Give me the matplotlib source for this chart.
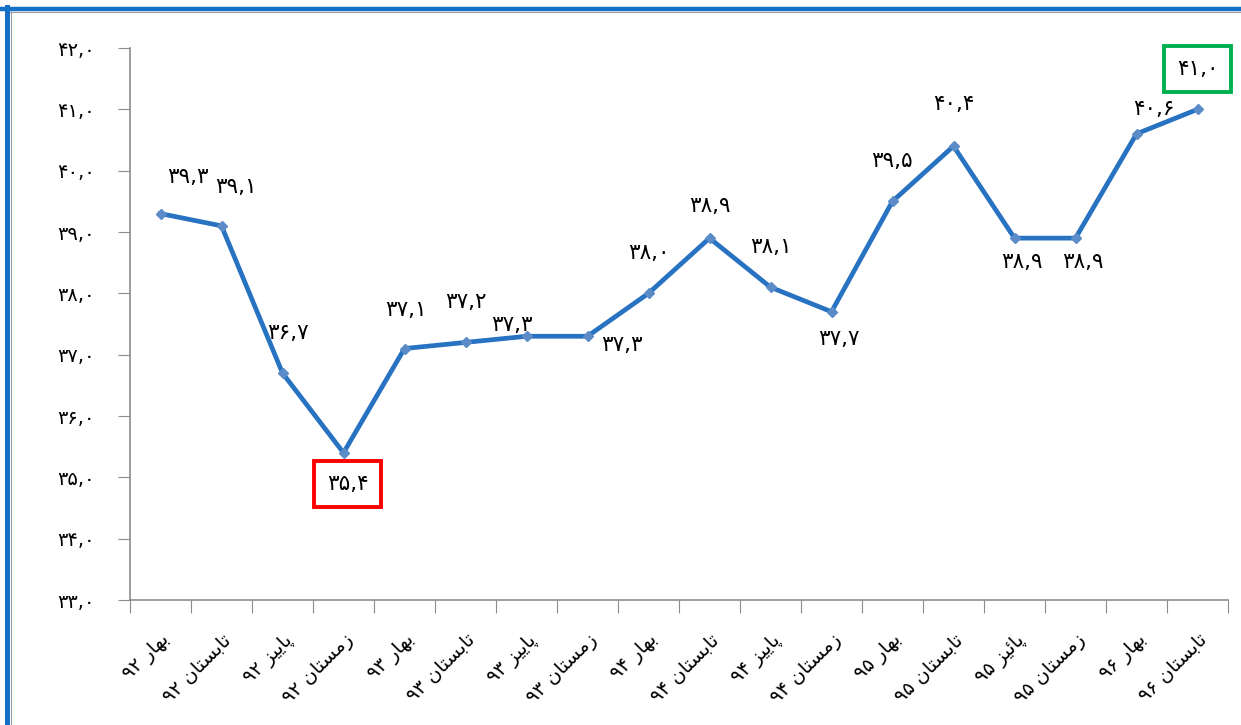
import matplotlib
matplotlib.use("Agg")
import matplotlib.pyplot as plt
from matplotlib.lines import Line2D

# ---------------- data ----------------
seasons = ["بهار", "تابستان", "پاییز", "زمستان",
           "بهار", "تابستان", "پاییز", "زمستان",
           "بهار", "تابستان", "پاییز", "زمستان",
           "بهار", "تابستان", "پائیز", "زمستان",
           "بهار", "تابستان"]
years = ["۹۲", "۹۲", "۹۲", "۹۲", "۹۳", "۹۳", "۹۳", "۹۳",
         "۹۴", "۹۴", "۹۴", "۹۴", "۹۵", "۹۵", "۹۵", "۹۵", "۹۶", "۹۶"]
values = [39.3, 39.1, 36.7, 35.4, 37.1, 37.2, 37.3, 37.3, 38.0,
          38.9, 38.1, 37.7, 39.5, 40.4, 38.9, 38.9, 40.6, 41.0]
yticks = [33, 34, 35, 36, 37, 38, 39, 40, 41, 42]

# label offsets (pixels) - styling only
label_offsets = [(27, 37), (14, 39), (5, 40), (4, -31), (1, 39), (0, 40),
                 (-15, 11), (34, -9), (0, 40), (0, 32), (0, 40), (7, -27),
                 (-1, 40), (0, 42), (7, -24), (7, -24), (17, 25), (0, 40)]
boxed = {3: "#FF0000", 17: "#00B050"}

# ---------------- Persian shaping ----------------
FORMS = {  # iso, fin, ini, med
    "ا": ("\uFE8D", "\uFE8E", None, None),
    "ب": ("\uFE8F", "\uFE90", "\uFE91", "\uFE92"),
    "ت": ("\uFE95", "\uFE96", "\uFE97", "\uFE98"),
    "پ": ("\uFB56", "\uFB57", "\uFB58", "\uFB59"),
    "ر": ("\uFEAD", "\uFEAE", None, None),
    "ز": ("\uFEAF", "\uFEB0", None, None),
    "س": ("\uFEB1", "\uFEB2", "\uFEB3", "\uFEB4"),
    "م": ("\uFEE1", "\uFEE2", "\uFEE3", "\uFEE4"),
    "ن": ("\uFEE5", "\uFEE6", "\uFEE7", "\uFEE8"),
    "ه": ("\uFEE9", "\uFEEA", "\uFEEB", "\uFEEC"),
    "ی": ("\uFBFC", "\uFBFD", "\uFBFE", "\uFBFF"),
    "ئ": ("\uFE89", "\uFE8A", "\uFE8B", "\uFE8C"),
}


def shape_word(w):
    out = []
    for i, ch in enumerate(w):
        if ch not in FORMS:
            out.append(ch)
            continue
        prev = w[i - 1] if i > 0 else None
        nxt = w[i + 1] if i + 1 < len(w) else None
        jp = prev in FORMS and FORMS[prev][2] is not None
        jn = nxt in FORMS and FORMS[ch][2] is not None
        iso, fin, ini, med = FORMS[ch]
        if jp and jn:
            out.append(med)
        elif jp:
            out.append(fin)
        elif jn:
            out.append(ini)
        else:
            out.append(iso)
    return "".join(out)[::-1]


def fa_label(season, year):
    # visual order (RTL): year on the left, season on the right
    return year + " " + shape_word(season)


FA_DIG = "۰۱۲۳۴۵۶۷۸۹"


def fa_num(v):
    s = f"{v:.1f}"
    return "".join(FA_DIG[int(c)] if c.isdigit() else "," for c in s)


# ---------------- figure ----------------
plt.rcParams["font.family"] = ["DejaVu Sans"]
W, H = 1241, 725
fig = plt.figure(figsize=(W / 100, H / 100), dpi=100)
fig.patch.set_facecolor("white")

ax = fig.add_axes([130 / W, 1 - 600 / H, (1228 - 130) / W, (600 - 48) / H])
x = list(range(len(values)))
ax.plot(x, values, color="#2872C2", lw=3.4, marker="D", ms=5.5,
        mfc="#5B8CC8", mec="#5B8CC8", solid_joinstyle="round", zorder=3)

ax.set_xlim(-0.5, len(values) - 0.5)
ax.set_ylim(33, 42)
ax.set_yticks(yticks)
ax.set_yticklabels([fa_num(v) for v in yticks], fontsize=14)
ax.set_xticks([i - 0.5 for i in range(len(values) + 1)])
ax.set_xticklabels([])
ax.set_xticks(x, minor=True)
ax.set_xticklabels([fa_label(s, y) for s, y in zip(seasons, years)],
                   minor=True, rotation=45, ha="right", va="top",
                   rotation_mode="anchor", fontsize=14)
ax.tick_params(axis="x", which="minor", length=0, pad=22)
ax.tick_params(axis="x", which="major", length=9, color="#8C8C8C", direction="out")
ax.tick_params(axis="y", length=9, color="#8C8C8C", direction="out", pad=16)
for side in ["top", "right"]:
    ax.spines[side].set_visible(False)
for side in ["left", "bottom"]:
    ax.spines[side].set_color("#8C8C8C")
    ax.spines[side].set_linewidth(1.2)

for i, v in enumerate(values):
    dx, dy = label_offsets[i]
    kw = {}
    if i in boxed:
        kw["bbox"] = dict(boxstyle="square,pad=0.6", fc="white",
                          ec=boxed[i], lw=2.8)
    ax.annotate(fa_num(v), (i, v), xytext=(dx, dy), textcoords="offset pixels",
                ha="center", va="center", fontsize=15.5, color="black",
                zorder=4, **kw)

# blue frame on top and left
fig.add_artist(Line2D([0, 1], [1 - 9 / H, 1 - 9 / H], color="#1470C6", lw=3.2,
                      transform=fig.transFigure))
fig.add_artist(Line2D([7 / W, 7 / W], [0, 1 - 7 / H], color="#1470C6", lw=3.6,
                      transform=fig.transFigure))
fig.add_artist(Line2D([10 / W, 1], [1 - 12 / H, 1 - 12 / H], color="#9A9A9A", lw=0.8,
                      transform=fig.transFigure))
fig.add_artist(Line2D([10.5 / W, 10.5 / W], [0, 1 - 12 / H], color="#9A9A9A", lw=0.8,
                      transform=fig.transFigure))

fig.savefig("out.png", dpi=100)
